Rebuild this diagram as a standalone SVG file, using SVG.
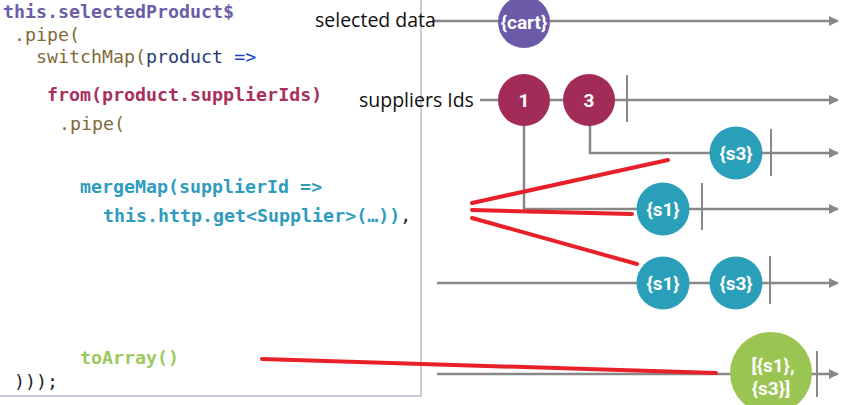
<svg xmlns="http://www.w3.org/2000/svg" width="848" height="405" viewBox="0 0 848 405">
<defs>
<marker id="arr" viewBox="0 0 10 10" refX="9" refY="5" markerWidth="10" markerHeight="10" markerUnits="userSpaceOnUse" orient="auto"><path d="M0,0 L10,5 L0,10 z" fill="#888"/></marker>
<style>
.code{font-family:"DejaVu Sans Mono","Liberation Mono",monospace;font-size:18.3px}
.b{font-weight:bold}
.lbl{font-family:"Open Sans","Noto Sans",sans-serif;font-size:19.5px;fill:#111}
.tl{stroke:#888;stroke-width:2.5;fill:none}
.tk{stroke:#888;stroke-width:2;fill:none}
.red{stroke:#e8202a;stroke-width:4;stroke-linecap:round;fill:none}
.ct{font-family:Roboto,"Liberation Sans",sans-serif;font-weight:bold;fill:#fff;text-anchor:middle;font-size:19px}
</style>
</defs>
<rect width="848" height="405" fill="#fff"/>
<g id="code-panel">
<path d="M421,0 V396 H0" fill="none" stroke="#bcbccc" stroke-width="1.5"/>
<text class="code b" x="3" y="18" fill="#6b5ea8">this.selectedProduct$</text>
<text class="code" x="14" y="41" fill="#7f6a3a">.pipe(</text>
<text class="code" x="36" y="63"><tspan fill="#7f6a3a">switchMap(</tspan><tspan fill="#1f3b73">product </tspan><tspan fill="#1a3fd0">=&gt;</tspan></text>
<text class="code b" x="47" y="101" fill="#a8305e">from(product.supplierIds)</text>
<text class="code" x="59" y="130" fill="#7f6a3a">.pipe(</text>
<text class="code b" x="80" y="193" fill="#2f9cbd">mergeMap(supplierId =&gt;</text>
<text class="code" x="103" y="222"><tspan class="b" fill="#2f9cbd">this.http.get&lt;Supplier&gt;(…))</tspan><tspan fill="#222">,</tspan></text>
<text class="code b" x="80" y="364" fill="#9cc95c">toArray()</text>
<text class="code" x="14" y="388" fill="#222">)));</text>
</g>
<g id="connectors">
<line class="tl" x1="432" y1="21" x2="838" y2="21" marker-end="url(#arr)"/>
<line class="tl" x1="480" y1="100" x2="838" y2="100" marker-end="url(#arr)"/>
<line class="tk" x1="627" y1="75" x2="627" y2="122"/>
<path class="tl" d="M590,100 V153 H838" marker-end="url(#arr)"/>
<line class="tk" x1="771" y1="129" x2="771" y2="176"/>
<path class="tl" d="M524,100 V209 H838" marker-end="url(#arr)"/>
<line class="tk" x1="702" y1="183" x2="702" y2="230"/>
<line class="tl" x1="437" y1="283" x2="838" y2="283" marker-end="url(#arr)"/>
<line class="tk" x1="770" y1="256" x2="770" y2="304"/>
<line class="tl" x1="437" y1="374" x2="838" y2="374" marker-end="url(#arr)"/>
<line class="tk" x1="817" y1="351" x2="817" y2="397"/>
</g>
<g id="labels">
<text class="lbl" x="315" y="27">selected data</text>
<text class="lbl" x="359" y="107">suppliers Ids</text>
</g>
<g id="node-cart"><circle cx="524" cy="22" r="26" fill="#6a5aa8"/><text class="ct" x="524" y="29">{cart}</text></g>
<g id="node-1"><circle cx="524" cy="100" r="26" fill="#a32b58"/><text class="ct" x="524" y="107" font-size="20">1</text></g>
<g id="node-3"><circle cx="589" cy="100" r="26" fill="#a32b58"/><text class="ct" x="589" y="107" font-size="20">3</text></g>
<g id="node-s3a"><circle cx="736" cy="153" r="26.5" fill="#2a9fba"/><text class="ct" x="736" y="160">{s3}</text></g>
<g id="node-s1a"><circle cx="663" cy="209" r="26.5" fill="#2a9fba"/><text class="ct" x="663" y="216">{s1}</text></g>
<g id="node-s1b"><circle cx="663" cy="283" r="26.5" fill="#2a9fba"/><text class="ct" x="663" y="290">{s1}</text></g>
<g id="node-s3b"><circle cx="736" cy="283" r="26.5" fill="#2a9fba"/><text class="ct" x="736" y="290">{s3}</text></g>
<g id="node-array"><circle cx="771" cy="373" r="41" fill="#9bc552"/><text class="ct" x="773" y="372" font-size="20">[{s1},</text><text class="ct" x="771" y="395" font-size="20">{s3}]</text></g>
<g id="red-lines">
<line class="red" x1="472" y1="203" x2="668" y2="160"/>
<line class="red" x1="472" y1="210" x2="632" y2="214"/>
<line class="red" x1="472" y1="218" x2="637" y2="264"/>
<line class="red" x1="262" y1="359" x2="716" y2="373"/>
</g>
</svg>
